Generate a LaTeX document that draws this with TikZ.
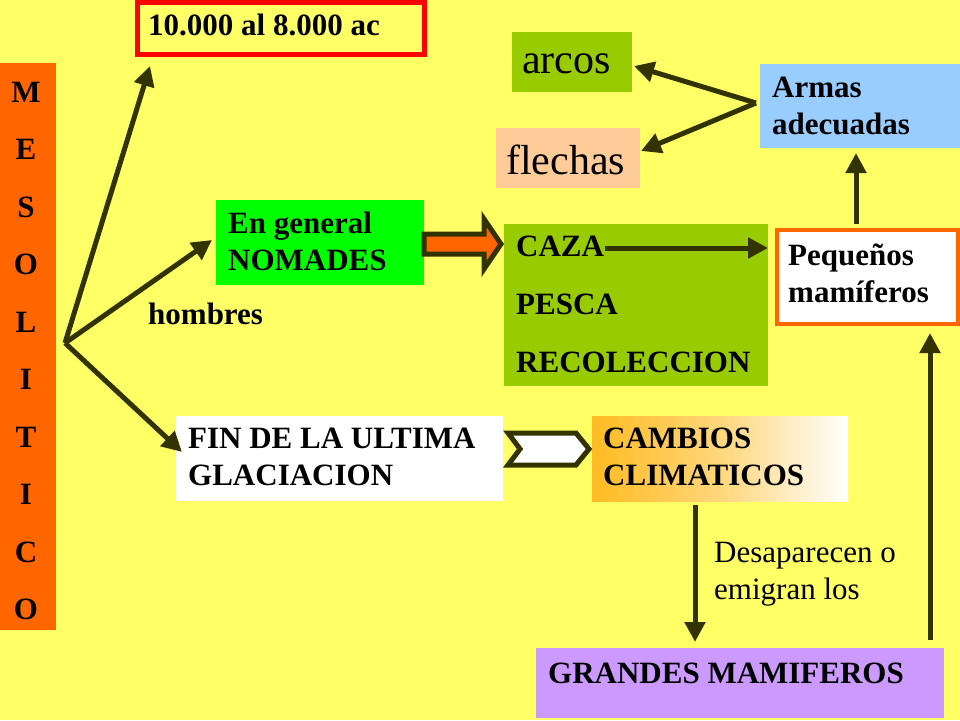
\documentclass[tikz,border=0pt]{standalone}
\usepackage{fontspec}
\setmainfont{Liberation Serif}
\usetikzlibrary{arrows.meta}
\definecolor{bg}{HTML}{FFFF66}
\definecolor{dk}{HTML}{333300}
\definecolor{org}{HTML}{FF6600}
\definecolor{olive}{HTML}{99CC00}
\definecolor{peach}{HTML}{FFCC99}
\definecolor{sky}{HTML}{99CCFF}
\definecolor{lila}{HTML}{CC99FF}
\definecolor{gold}{HTML}{FFBB22}
\begin{document}
\begin{tikzpicture}[x=1pt,y=-1pt,
  txt/.style={font=\fontsize{31}{37}\selectfont\bfseries,align=left,anchor=north west,inner sep=0},
  big/.style={font=\fontsize{42}{46}\selectfont,anchor=west,inner sep=0},
  arr/.style={draw=dk,line width=5pt,-{Triangle[length=20pt,width=20pt]}}]
\useasboundingbox (0,0) rectangle (960,720);
\fill[bg] (0,0) rectangle (960,720);
% boxes
\fill[org] (0,63) rectangle (56,630);
\node (meso) at (28,346) {};
\foreach \l [count=\i] in {M,E,S,O,L,I,T,I,C,O}
  \node[font=\fontsize{31}{37}\selectfont\bfseries] (m\i) at (26,92+\i*57.5-57.5) {\l};
\draw[red,line width=5pt] (137.5,2.5) rectangle (424.5,54.5);
\node[txt] (fecha) at (148,14) {10.000 al 8.000 ac};
\fill[olive] (512,32) rectangle (632,92);
\node[big] (arcos) at (522,64) {arcos};
\fill[peach] (496,128) rectangle (640,188);
\node[big] (flechas) at (506,160) {flechas};
\fill[sky] (760,64) rectangle (960,148);
\node[txt] (armas) at (772,77) {Armas\\adecuadas};
\fill[green] (216,200) rectangle (424,285);
\node[txt] (nom) at (228,212) {En general\\NOMADES};
\fill[olive] (504,224) rectangle (768,386);
\node[txt,align=left,font=\fontsize{31}{58}\selectfont\bfseries] (caza) at (516,236) {CAZA\\PESCA\\RECOLECCION};
\draw[org,line width=4pt,fill=white] (777,230) rectangle (958,324);
\node[txt] (peq) at (788,244) {Pequeños\\mamíferos};
\node[txt] (hom) at (148,303) {hombres};
\fill[white] (176,416) rectangle (503,501);
\node[txt] (fin) at (188,428) {FIN DE LA ULTIMA\\GLACIACION};
\shade[left color=gold,right color=white,middle color=gold!60!white] (592,416) rectangle (848,501);
\node[txt] (camb) at (603,428) {CAMBIOS\\CLIMATICOS};
\fill[lila] (536,648) rectangle (944,718);
\node[txt,anchor=west] (gran) at (548,673) {GRANDES MAMIFEROS};
\node[txt,font=\fontsize{31}{37}\selectfont] (desa) at (714,542) {Desaparecen o\\emigran los};
% connectors
\coordinate (o) at (65,343);
\coordinate (t1) at (150,66);
\coordinate (t2) at (212,240);
\coordinate (t3) at (182,452);
\draw[arr] (o) -- (t1);
\draw[arr] (o) -- (t2);
\draw[arr] (o) -- (t3);
\coordinate (ap) at (756,103);
\coordinate (ta) at (634,66);
\coordinate (tf) at (641,151);
\draw[arr] (ap) -- (ta);
\draw[arr] (ap) -- (tf);
\coordinate (c1) at (605,248);
\coordinate (c2) at (768,248);
\draw[arr] (c1) -- (c2);
\coordinate (p1) at (856,224);
\coordinate (p2) at (856,153);
\draw[arr] (p1) -- (p2);
\coordinate (d1) at (695,505);
\coordinate (d2) at (695,642);
\draw[arr] (d1) -- (d2);
\coordinate (g1) at (930,640);
\coordinate (g2) at (930,333);
\draw[arr] (g1) -- (g2);
% block arrows
\draw[dk,line width=5pt,fill=org,line join=miter] (424,234) -- (484,234) -- (484,219) -- (501,244) -- (484,269) -- (484,254) -- (424,254) -- cycle;
\draw[dk,line width=5pt,fill=white,line join=miter] (508,433) -- (576,433) -- (589,449) -- (576,465) -- (508,465) -- (520,449) -- cycle;
\end{tikzpicture}
\end{document}
